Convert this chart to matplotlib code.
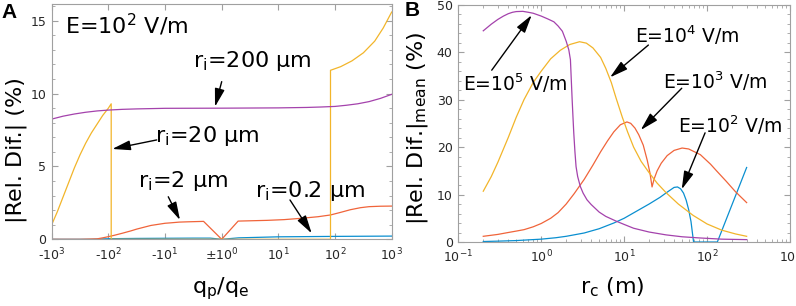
import numpy as np
import matplotlib
matplotlib.use("Agg")
import matplotlib.pyplot as plt

plt.rcParams['font.family'] = ['DejaVu Sans']
plt.rcParams['mathtext.default'] = 'regular'

# ---------------- Panel A data (x = signed log10(q_p/q_e)) ----------------
a_xticks = [-3, -2, -1, 0, 1, 2, 3]
a_xticklabels = ['-10$^{3}$', '-10$^{2}$', '-10$^{1}$', '$\\pm$10$^{0}$',
                 '10$^{1}$', '10$^{2}$', '10$^{3}$']
a_yticks = [0, 5, 10, 15]

a200_x = [-3, -2.8, -2.6, -2.4, -2.2, -2, -1.75, -1.5, -1, 0, 1, 1.5, 1.75, 2, 2.2,
          2.4, 2.6, 2.8, 3]
a200_y = [8.25, 8.45, 8.6, 8.72, 8.81, 8.87, 8.92, 8.95, 8.99, 9.0, 9.02, 9.05, 9.08,
          9.12, 9.2, 9.3, 9.45, 9.67, 9.95]

a20_x = [-3, -2.9, -2.8, -2.7, -2.6, -2.5, -2.4, -2.3, -2.2, -2.1, -2.0, -1.95,
         -1.95, 1.92, 1.92, 2.1, 2.3, 2.5, 2.7, 2.85, 3]
a20_y = [1.0, 1.9, 2.9, 3.9, 4.9, 5.8, 6.6, 7.3, 7.9, 8.5, 9.0, 9.3,
         0.0, 0.0, 11.6, 11.85, 12.25, 12.8, 13.6, 14.5, 15.6]

a2_x = [-3, -2.5, -2.2, -2.1, -2, -1.9, -1.75, -1.6, -1.5, -1.4, -1.25, -1.1, -1,
        -0.9, -0.75, -0.6, -0.32, 0, 0.29, 0.8, 1.1, 1.4, 1.7, 1.92, 2.1, 2.27,
        2.45, 2.6, 2.8, 3]
a2_y = [0, 0, 0.03, 0.1, 0.18, 0.27, 0.42, 0.58, 0.7, 0.8, 0.95, 1.04, 1.1,
        1.13, 1.18, 1.2, 1.23, 0, 1.25, 1.3, 1.35, 1.44, 1.55, 1.67, 1.85, 2.03,
        2.17, 2.24, 2.27, 2.28]

a02_x = [-3, -2.3, -2, -1.5, -1, -0.5, -0.2, 0, 0.3, 1, 2, 3]
a02_y = [0, 0, 0.04, 0.06, 0.07, 0.08, 0.08, 0, 0.1, 0.17, 0.2, 0.22]

# ---------------- Panel B data ----------------
e5_r = [0.2, 0.25, 0.3, 0.35, 0.4, 0.45, 0.5, 0.6, 0.7, 0.8, 1.0, 1.2, 1.42, 1.6,
        1.8, 2.0, 2.15, 2.25, 2.3, 2.36, 2.42, 2.47, 2.55, 2.63, 2.75, 2.96, 3.2,
        3.56, 4.0, 5.0, 6.0, 8.0, 10, 13, 20, 32, 50, 82, 150, 300]
e5_v = [44.5, 45.9, 46.9, 47.6, 48.1, 48.4, 48.55, 48.6, 48.4, 48.2, 47.6, 47.0,
        46.4, 45.5, 44.4, 42.3, 40.5, 38.4, 34.5, 30.0, 26.0, 22.9, 19.0, 15.9,
        13.8, 11.7, 10.3, 8.9, 7.9, 6.3, 5.4, 4.4, 3.7, 2.9, 2.1, 1.5, 1.1, 0.85,
        0.6, 0.5]

e4_r = [0.2, 0.25, 0.3, 0.4, 0.5, 0.62, 0.8, 1.0, 1.3, 1.7, 2.2, 2.9, 3.5, 4.2,
        5.2, 6.0, 7.0, 8.0, 9.5, 11, 13, 16, 20, 25, 32, 45, 68, 100, 150, 220, 300]
e4_v = [10.7, 13.8, 16.8, 22.0, 26.3, 30.0, 33.6, 36.0, 38.6, 40.4, 41.6, 42.2,
        41.9, 40.9, 38.9, 36.6, 33.6, 30.3, 26.3, 23.2, 20.0, 17.0, 14.6, 12.4,
        10.4, 8.0, 5.6, 3.8, 2.5, 1.7, 1.2]

e3_r = [0.2, 0.3, 0.4, 0.5, 0.62, 0.8, 1.0, 1.3, 1.6, 2.0, 2.5, 3.3, 4.2, 5.2, 6.3,
        7.5, 9.0, 10.8, 12, 13.5, 15, 17, 19, 20.5, 21.7, 23, 25, 28, 33, 40, 50,
        60, 83, 110, 130, 170, 220, 300]
e3_v = [1.2, 1.6, 2.0, 2.3, 2.6, 3.2, 3.9, 5.0, 6.2, 8.0, 10.2, 13.2, 16.2, 19.0,
        21.3, 23.2, 24.7, 25.3, 25.0, 24.0, 22.6, 20.4, 17.2, 14.5, 11.6, 13.3,
        15.0, 16.6, 18.2, 19.3, 19.8, 19.6, 18.4, 16.4, 15.0, 12.8, 10.6, 8.3]

e2_r = [0.2, 0.3, 0.5, 0.7, 1.0, 1.5, 2.0, 3.3, 5.0, 7.5, 10, 15.5, 20, 27, 33, 40,
        44, 48, 52, 56, 60, 64, 68.7, 133, 300]
e2_v = [0.1, 0.18, 0.3, 0.45, 0.6, 0.9, 1.2, 1.9, 2.8, 4.0, 5.0, 6.9, 8.0, 9.4,
        10.5, 11.5, 11.6, 11.2, 10.3, 8.8, 6.8, 4.3, 0, 0, 15.7]

b_yticks = [0, 10, 20, 30, 40, 50]

c_blue = '#0a8fd0'
c_orange = '#f0643a'
c_yellow = '#f2b52a'
c_purple = '#a442ac'

W, H = 796, 306
fig = plt.figure(figsize=(W / 100, H / 100), dpi=100)

def px_axes(l, t, r, b):
    return fig.add_axes([l / W, 1 - b / H, (r - l) / W, (b - t) / H])

axA = px_axes(51.7, 4, 391.7, 239.3)
axB = px_axes(458.3, 4.7, 790, 242)

spine_c = '#a0a0a0'
for ax in (axA, axB):
    for s in ax.spines.values():
        s.set_color(spine_c)
        s.set_linewidth(0.8)
    ax.tick_params(which='both', direction='in', top=True, right=True,
                   color=spine_c, labelcolor='#262626', labelsize=9)
    ax.tick_params(axis='x', which='both', pad=5)
    ax.tick_params(axis='y', which='both', pad=4)
    ax.tick_params(which='major', length=4)
    ax.tick_params(which='minor', length=2)

lw = 0.9
# Panel A
axA.plot(a02_x, a02_y, color=c_blue, lw=lw)
axA.plot(a2_x, a2_y, color=c_orange, lw=lw)
axA.plot(a20_x, a20_y, color=c_yellow, lw=lw)
axA.plot(a200_x, a200_y, color=c_purple, lw=lw)
axA.set_xlim(-3, 3)
axA.set_ylim(0, 16.15)
axA.set_xticks(a_xticks)
axA.set_xticklabels(a_xticklabels)
axA.set_yticks(a_yticks)
axA.set_yticks(np.arange(0, 17, 1), minor=True)

# Panel B
axB.plot(e2_r, e2_v, color=c_blue, lw=lw)
axB.plot(e3_r, e3_v, color=c_orange, lw=lw)
axB.plot(e4_r, e4_v, color=c_yellow, lw=lw)
axB.plot(e5_r, e5_v, color=c_purple, lw=lw)
axB.set_xscale('log')
axB.set_xlim(0.1, 1000)
axB.set_ylim(0, 50)
axB.set_yticks(b_yticks)
axB.set_yticks(np.arange(0, 51, 2), minor=True)

arrow = dict(arrowstyle='-|>,head_length=1.1,head_width=0.3', color='black',
             lw=1.0, mutation_scale=10, shrinkA=0, shrinkB=0)

def annot(ax, text, txy, tail, head, fs):
    ax.text(txy[0], txy[1], text, fontsize=fs, ha='left', va='baseline')
    ax.annotate('', xy=head, xytext=tail, arrowprops=arrow)

# Panel A annotations
axA.text(0.039, 0.911, 'E=10$^{2}$ V/m', transform=axA.transAxes, fontsize=16,
         ha='left', va='center')
annot(axA, 'r$_{i}$=200 µm', (-0.507, 11.85), (0.0, 10.82), (-0.118, 9.10), 16)
annot(axA, 'r$_{i}$=20 µm', (-1.177, 6.70), (-1.147, 6.82), (-1.931, 6.20), 16)
annot(axA, 'r$_{i}$=2 µm', (-1.477, 3.61), (-0.943, 2.92), (-0.736, 1.32), 16)
annot(axA, 'r$_{i}$=0.2 µm', (0.587, 2.92), (1.205, 2.70), (1.588, 0.41), 16)

# Panel B annotations
annot(axB, 'E=10$^{5}$ V/m', (0.115, 31.9), (0.253, 36.2), (0.767, 47.8), 13.5)
annot(axB, 'E=10$^{4}$ V/m', (13.5, 42.0), (19.6, 41.5), (6.76, 34.7), 13.5)
annot(axB, 'E=10$^{3}$ V/m', (29.7, 32.2), (49.5, 32.4), (15.85, 23.6), 13.5)
annot(axB, 'E=10$^{2}$ V/m', (45.1, 23.0), (94.6, 23.0), (49.5, 11.1), 13.5)

# Axis labels placed as figure text
fig.text(16 / W, 1 - 150 / H, '|Rel. Dif.| (%)', rotation=90, fontsize=16,
         ha='center', va='center')
fig.text(221 / W, 1 - 289 / H, 'q$_{p}$/q$_{e}$', fontsize=16, ha='center', va='center')
fig.text(417 / W, 1 - 128.5 / H, '|Rel. Dif.|$_{mean}$ (%)', rotation=90, fontsize=16,
         ha='center', va='center')
fig.text(612.5 / W, 1 - 287.5 / H, 'r$_{c}$ (m)', fontsize=16, ha='center', va='center')

# Panel letters
fig.text(9 / W, 1 - 12 / H, 'A', fontsize=15, fontweight='bold',
         family='Liberation Sans', ha='center', va='center')
fig.text(412 / W, 1 - 11 / H, 'B', fontsize=15, fontweight='bold',
         family='Liberation Sans', ha='center', va='center')

fig.savefig('out.png', dpi=100)
